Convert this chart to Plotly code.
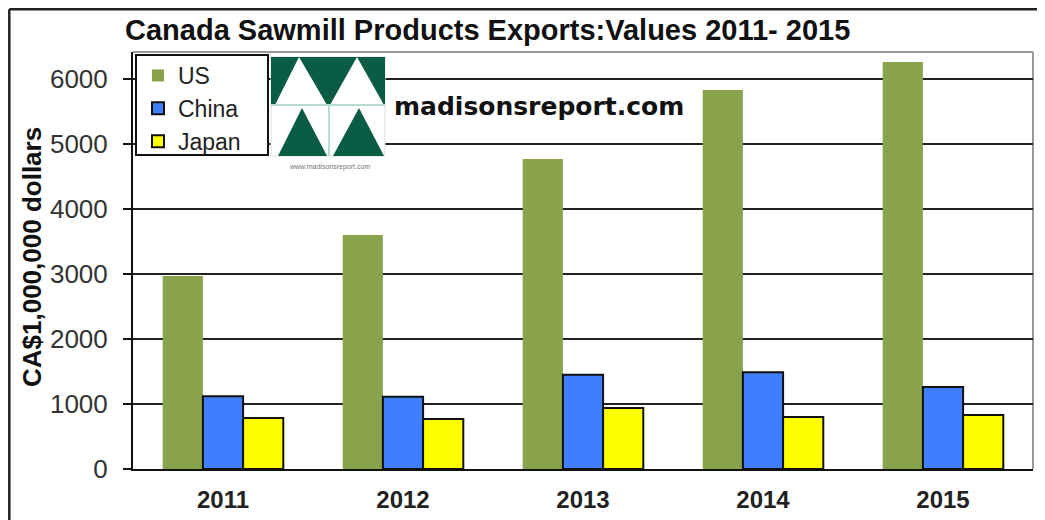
import plotly.graph_objects as go

years = ["2011", "2012", "2013", "2014", "2015"]
us = [2970, 3600, 4770, 5830, 6260]
china = [1120, 1110, 1450, 1490, 1260]
japan = [785, 770, 940, 800, 830]
series_names = ["US", "China", "Japan"]
y_ticks = [0, 1000, 2000, 3000, 4000, 5000, 6000]

# the page body adds an 8px margin, so the figure is shifted by OFF
OFF = 8
W, H = 1045 - OFF, 520 - OFF
# plot area in reference-image pixels
RL, RR, RT, RB = 133, 1033, 52, 469
L, R, T, B = RL - OFF, RR - OFF, RT - OFF, RB - OFF


def px(x):
    return (x - OFF - L) / (R - L)


def py(y):
    return (B - (y - OFF)) / (B - T)


fig = go.Figure()
fig.add_trace(go.Bar(name=series_names[0], x=years, y=us,
                     marker=dict(color="#89a24c", line=dict(width=0))))
fig.add_trace(go.Bar(name=series_names[1], x=years, y=china,
                     marker=dict(color="#3f7fff", line=dict(color="#111", width=2))))
fig.add_trace(go.Bar(name=series_names[2], x=years, y=japan,
                     marker=dict(color="#ffff00", line=dict(color="#111", width=2))))

shapes = []
# legend box
shapes.append(dict(type="rect", xref="paper", yref="paper", layer="above",
                   x0=px(136), x1=px(268), y0=py(155), y1=py(55),
                   fillcolor="white", line=dict(color="#111", width=2)))
# logo
G = "#0b5c45"
shapes.append(dict(type="rect", xref="paper", yref="paper", layer="above",
                   x0=px(271), x1=px(385), y0=py(156), y1=py(57),
                   fillcolor="white", line=dict(color="#dddddd", width=1)))
shapes.append(dict(type="rect", xref="paper", yref="paper", layer="above",
                   x0=px(271), x1=px(385), y0=py(105), y1=py(57),
                   fillcolor=G, line=dict(width=0)))


def tri(pts, color):
    d = "M " + " L ".join(f"{px(a):.5f},{py(b):.5f}" for a, b in pts) + " Z"
    return dict(type="path", xref="paper", yref="paper", layer="above", path=d,
                fillcolor=color, line=dict(width=0))


shapes.append(tri([(275, 105), (299, 57), (327, 105)], "white"))
shapes.append(tri([(330, 105), (357, 57), (384, 105)], "white"))
shapes.append(tri([(278, 156), (302, 108), (327, 156)], G))
shapes.append(tri([(333, 156), (359, 108), (384, 156)], G))
shapes.append(dict(type="line", xref="paper", yref="paper", layer="above",
                   x0=px(271), x1=px(385), y0=py(105), y1=py(105),
                   line=dict(color="#b5dccf", width=2)))
shapes.append(dict(type="line", xref="paper", yref="paper", layer="above",
                   x0=px(329), x1=px(329), y0=py(105), y1=py(156),
                   line=dict(color="#b5dccf", width=2)))
# plot frame top/right (gray)
shapes.append(dict(type="line", xref="paper", yref="paper", layer="below",
                   x0=0, x1=1, y0=1, y1=1, line=dict(color="#9a9a9a", width=2)))
shapes.append(dict(type="line", xref="paper", yref="paper", layer="below",
                   x0=1, x1=1, y0=0, y1=1, line=dict(color="#9a9a9a", width=2)))
# outer border (left and top), as close to the page corner as the figure allows
shapes.append(dict(type="line", xref="paper", yref="paper", layer="above",
                   x0=px(OFF + 1.3), x1=px(OFF + 1.3), y0=py(540), y1=py(OFF + 1.3),
                   line=dict(color="#222", width=2.5)))
shapes.append(dict(type="line", xref="paper", yref="paper", layer="above",
                   x0=px(OFF + 1.3), x1=px(1060), y0=py(OFF + 1.3), y1=py(OFF + 1.3),
                   line=dict(color="#222", width=2.5)))

annotations = [
    dict(text="<b>Canada Sawmill Products Exports:Values 2011- 2015</b>",
         xref="paper", yref="paper", x=px(123), y=py(30), xanchor="left", yanchor="middle",
         showarrow=False, font=dict(family="Liberation Sans", size=29, color="#111")),
    dict(text="<b>madisonsreport.com</b>",
         xref="paper", yref="paper", x=px(392), y=py(107), xanchor="left", yanchor="middle",
         showarrow=False, font=dict(family="DejaVu Sans", size=25, color="#111")),
    dict(text="www.madisonsreport.com",
         xref="paper", yref="paper", x=px(329), y=py(167), xanchor="center", yanchor="middle",
         showarrow=False, font=dict(family="Liberation Sans", size=7, color="#777")),
    dict(text="<b>CA$1,000,000 dollars</b>", textangle=-90,
         xref="paper", yref="paper", x=px(32), y=py(257), xanchor="center", yanchor="middle",
         showarrow=False, font=dict(family="Liberation Sans", size=26, color="#111")),
]

fig.update_layout(
    width=W, height=H,
    margin=dict(l=L, r=W - R, t=T, b=H - B, pad=0, autoexpand=False),
    paper_bgcolor="white", plot_bgcolor="white",
    barmode="group", bargap=0.33, bargroupgap=0,
    shapes=shapes, annotations=annotations,
    showlegend=True,
    legend=dict(x=px(138), y=py(54), xanchor="left", yanchor="top",
                bgcolor="rgba(0,0,0,0)", borderwidth=0, tracegroupgap=0,
                font=dict(family="Liberation Sans", size=23, color="#222"),
                itemclick=False, itemdoubleclick=False),
    font=dict(family="Liberation Sans"),
)
fig.update_xaxes(type="category", range=[-0.5, 4.5], showline=True, linecolor="#111", linewidth=2,
                 ticks="", ticklabelstandoff=8, automargin=False,
                 tickfont=dict(family="Liberation Sans", size=24, color="#222"),
                 tickprefix="<b>", ticksuffix="</b>", showgrid=False, zeroline=False)
fig.update_yaxes(range=[0, 6415], tickvals=y_ticks, showline=True, linecolor="#111", linewidth=2,
                 ticks="outside", ticklen=8, tickwidth=2, tickcolor="#111",
                 ticklabelstandoff=10, automargin=False,
                 tickfont=dict(family="Liberation Sans", size=26, color="#333"),
                 showgrid=True, gridcolor="#222", gridwidth=1.5, zeroline=False)

fig.write_html("out.html")
